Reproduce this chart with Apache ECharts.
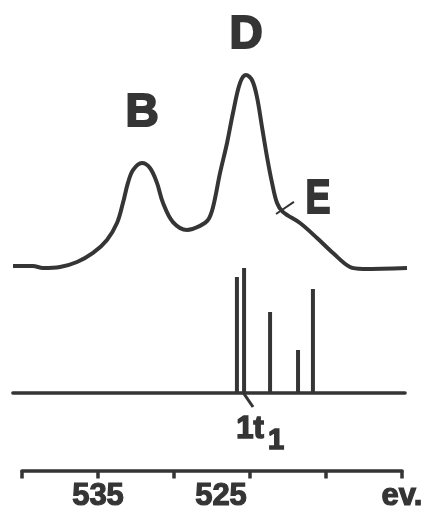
<!DOCTYPE html>
<html>
<head>
<meta charset="utf-8">
<script src="https://cdn.jsdelivr.net/npm/echarts@6/dist/echarts.min.js"></script>
<style>
html,body{margin:0;padding:0;background:#fff;}
#chart{width:442px;height:513px;}
</style>
</head>
<body>
<div id="chart"></div>
<script>
// ---- data (energy in eV, intensity in arbitrary units) ----
const spectrumEV = [540.59, 539.28, 538.62, 537.50, 536.38, 535.33, 534.41, 533.75, 533.36, 533.03,
  532.70, 532.11, 531.58, 531.12, 530.72, 530.07, 529.14, 528.29, 527.76, 527.43,
  526.97, 526.51, 526.12, 525.66, 525.26, 524.87, 524.54, 524.21, 523.88, 523.55,
  523.22, 522.83, 521.71, 520.59, 519.54, 518.42, 517.57, 514.67];
const spectrumIntensity = [0.5, 0.5, -0.5, 0, 2.6, 7.3, 14.1, 22.9, 33.3, 43.8,
  50.5, 54.2, 51.6, 43.8, 33.3, 23.4, 19.3, 21.4, 24.5, 31.3,
  49.0, 64.6, 80.2, 95.8, 100, 97.4, 88.5, 72.9, 57.3, 43.8,
  33.3, 28.6, 22.9, 15.1, 7.3, 0, -1.0, -0.5];
const eMarkEV = [523.29, 522.11];
const eMarkIntensity = [27.6, 33.9];
const stickEV = [525.86, 525.39, 523.68, 521.84, 520.86];
const stickIntensity = [92.8, 100, 64.8, 34.4, 83.2];
const levelMarkEV = [525.46, 524.80];
const levelMarkY = [0.5, -11.2];
const tickValues = [535, 525, 515];
const tickTexts = ['535', '525', 'ev.'];
const peakNames = ['B', 'D', 'E'];
const levelName = '1t';
const levelSub = '1';

// ---- layout ----
const INK = '#353535';
const X540 = 22, PX_PER_EV = 15.2, W = 442, H = 513;
const px = e => X540 + (540 - e) * PX_PER_EV;
function gridFor(evMin, evMax, yTopPx, yBotPx) {
  return { left: px(evMax), right: W - px(evMin), top: yTopPx, bottom: H - yBotPx };
}
const zip = (a, b) => a.map((v, i) => [v, b[i]]);

const chart = echarts.init(document.getElementById('chart'), null, { renderer: 'canvas' });
const FONT = '"Liberation Sans", Arial, sans-serif';

const option = {
  animation: false,
  backgroundColor: '#fff',
  grid: [
    gridFor(514.5, 540.7, 55.8, 286.2),
    gridFor(514.8, 540.6, 268, 418),
    gridFor(515, 540, 461, 471)
  ],
  xAxis: [
    { gridIndex: 0, type: 'value', min: 514.5, max: 540.7, inverse: true, show: false },
    { gridIndex: 1, type: 'value', min: 514.8, max: 540.6, inverse: true,
      axisLine: { show: true, onZero: true, lineStyle: { color: INK, width: 3.5 } },
      axisTick: { show: false }, axisLabel: { show: false }, splitLine: { show: false } },
    { gridIndex: 2, type: 'value', min: 515, max: 540, interval: 5, inverse: true,
      axisLine: { show: true, lineStyle: { color: INK, width: 3.5 } },
      axisTick: { show: true, length: 8, lineStyle: { color: INK, width: 3.5 } },
      splitLine: { show: false },
      axisLabel: {
        show: true, margin: 11, color: INK,
        fontFamily: FONT, fontWeight: 'bold', fontSize: 31,
        textBorderColor: INK, textBorderWidth: 1.2,
        showMinLabel: true, showMaxLabel: true,
        formatter: v => {
          const i = tickValues.indexOf(v);
          if (i < 0) return '';
          return i === 1 ? '{s|' + tickTexts[i] + '}' : tickTexts[i];
        },
        rich: { s: { fontFamily: FONT, fontWeight: 'bold', fontSize: 31, color: INK,
          textBorderColor: INK, textBorderWidth: 1.2, padding: [0, 58, 0, 0] } }
      } }
  ],
  yAxis: [
    { gridIndex: 0, type: 'value', min: -10, max: 110, show: false },
    { gridIndex: 1, type: 'value', min: -20, max: 100, show: false },
    { gridIndex: 2, type: 'value', min: 0, max: 1, show: false }
  ],
  series: [
    { type: 'line', xAxisIndex: 0, yAxisIndex: 0, data: zip(spectrumEV, spectrumIntensity),
      showSymbol: false, smooth: 0.35, lineStyle: { color: INK, width: 4 }, silent: true },
    { type: 'line', xAxisIndex: 0, yAxisIndex: 0, data: zip(eMarkEV, eMarkIntensity),
      showSymbol: false, lineStyle: { color: INK, width: 2 }, silent: true },
    { type: 'bar', xAxisIndex: 1, yAxisIndex: 1, data: zip(stickEV, stickIntensity),
      barWidth: 4, itemStyle: { color: INK }, silent: true },
    { type: 'line', xAxisIndex: 1, yAxisIndex: 1, data: zip(levelMarkEV, levelMarkY),
      showSymbol: false, lineStyle: { color: INK, width: 3 }, silent: true }
  ],
  graphic: [
    { type: 'text', x: 142, y: 113, style: { text: peakNames[0], font: 'bold 46px ' + FONT, fill: INK, stroke: INK, lineWidth: 2, align: 'center', verticalAlign: 'middle' } },
    { type: 'text', x: 246, y: 35, style: { text: peakNames[1], font: 'bold 46px ' + FONT, fill: INK, stroke: INK, lineWidth: 2, align: 'center', verticalAlign: 'middle' } },
    { type: 'text', x: 318, y: 200, scaleX: 0.78, style: { text: peakNames[2], font: 'bold 48px ' + FONT, fill: INK, stroke: INK, lineWidth: 2, align: 'center', verticalAlign: 'middle' } },
    { type: 'text', x: 250, y: 429, style: { text: levelName, font: 'bold 31px ' + FONT, fill: INK, stroke: INK, lineWidth: 1.5, align: 'center', verticalAlign: 'middle' } },
    { type: 'text', x: 276, y: 441, style: { text: levelSub, font: 'bold 29px ' + FONT, fill: INK, stroke: INK, lineWidth: 1.5, align: 'center', verticalAlign: 'middle' } }
  ]
};
chart.setOption(option);
</script>
</body>
</html>
